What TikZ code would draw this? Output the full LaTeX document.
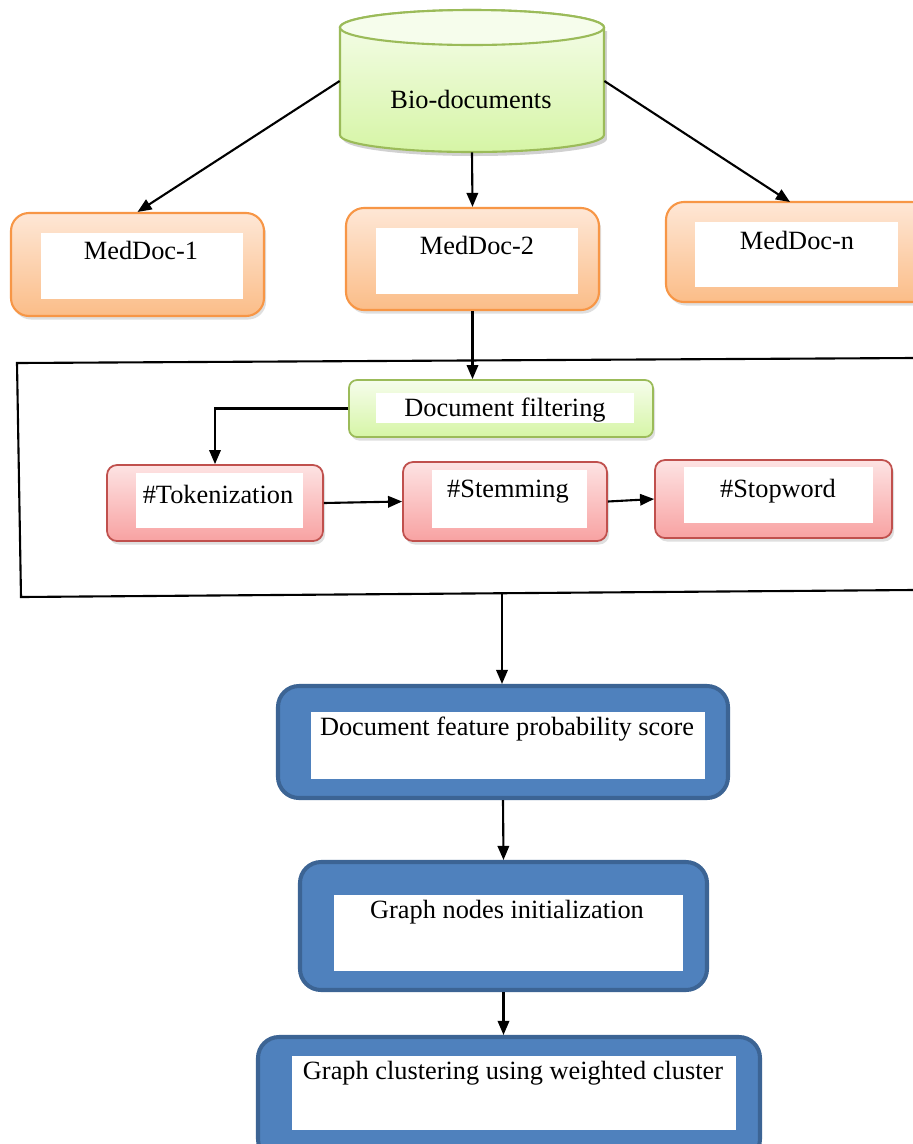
\documentclass[tikz,border=0pt]{standalone}
\usepackage{fontspec}
\setmainfont{Liberation Serif}
\newfontfamily\labelface{Liberation Serif}
\usetikzlibrary{arrows.meta,fit,shadows}

\definecolor{greenline}{HTML}{9BBB59}
\definecolor{greentop}{HTML}{F6FDEC}
\definecolor{greenbot}{HTML}{D6F5A6}
\definecolor{orangeline}{HTML}{F79646}
\definecolor{orangetop}{HTML}{FEE7D6}
\definecolor{orangebot}{HTML}{FBBD88}
\definecolor{redline}{HTML}{C0504D}
\definecolor{redtop}{HTML}{FDE3E3}
\definecolor{redbot}{HTML}{F8A2A2}
\definecolor{bluefill}{HTML}{4F81BD}
\definecolor{blueline}{HTML}{3C6494}

\tikzset{
  softshadow/.style={drop shadow={opacity=0.25,shadow xshift=1.2pt,shadow yshift=-2pt}},
  docbox/.style={inner sep=0pt,rounded corners=0.36cm,draw=orangeline,line width=1.2pt,
    top color=orangetop,bottom color=orangebot,softshadow},
  filterbox/.style={inner sep=0pt,rounded corners=0.16cm,draw=greenline,line width=1pt,
    top color=greentop,bottom color=greenbot,softshadow},
  prepbox/.style={inner sep=0pt,rounded corners=0.2cm,draw=redline,line width=1pt,
    top color=redtop,bottom color=redbot,softshadow},
  stagebox/.style={inner sep=0pt,rounded corners=0.42cm,draw=blueline,line width=2.3pt,
    fill=bluefill},
  panel/.style={inner sep=0pt,fill=white,draw=none},
  lbl/.style={font=\labelface\fontsize{15}{18}\selectfont,text=black,inner sep=0pt},
  conn/.style={line width=1.2pt,-{Triangle[length=8pt,width=6.5pt]}},
  frame/.style={line width=1.2pt}
}

\begin{document}
\begin{tikzpicture}[x=0.02cm,y=-0.02cm]
\clip (0,0) rectangle (913,1144);
\fill[white] (0,0) rectangle (913,1144);

% ---- source database (cylinder) ----
\fill[black,opacity=0.18] (343,31) -- (343,139)
   arc[start angle=180,end angle=360,x radius=2.64cm,y radius=0.34cm] -- (607,31) -- cycle;
\shade[top color=greentop,bottom color=greenbot,draw=greenline,line width=1.2pt]
  (340,27.5) -- (340,135)
  arc[start angle=180,end angle=360,x radius=2.64cm,y radius=0.34cm]
  -- (604,27.5)
  arc[start angle=0,end angle=180,x radius=2.64cm,y radius=0.35cm] -- cycle;
\fill[greentop] (472,27.5) ellipse[x radius=2.64cm,y radius=0.35cm];
\draw[greenline,line width=1.2pt] (472,27.5) ellipse[x radius=2.64cm,y radius=0.35cm];
\node[fit={(340,10) (604,152)},inner sep=0pt] (bio) {};
\node[lbl] at (471,99) {Bio-documents};

% ---- medical documents ----
\node[docbox,fit={(11,213) (264,316)}] (m1) {};
\node[panel,fit={(41,233) (243,299)}] {};
\node[lbl] at (141,250) {MedDoc-1};

\node[docbox,fit={(346,208) (599,310)}] (m2) {};
\node[panel,fit={(376,228) (578,294)}] {};
\node[lbl] at (477,245) {MedDoc-2};

\node[docbox,fit={(666,202) (930,302)}] (mn) {};
\node[panel,fit={(695,222) (898,287)}] {};
\node[lbl] at (797,240) {MedDoc-n};
\coordinate (mntop) at (790,202);

\draw[conn] (bio.west) -- (m1.north);
\draw[conn] (bio.south) -- (m2.north);
\draw[conn] (bio.east) -- (mntop);

% ---- preprocessing frame ----
\coordinate (fr1) at (913,358);
\coordinate (fr2) at (17,363);
\coordinate (fr3) at (21,597);
\coordinate (fr4) at (913,590);
\coordinate (frout) at (502,594);
\draw[frame] (fr1) -- (fr2) -- (fr3) -- (fr4);

\node[filterbox,fit={(349,380) (653,437)}] (filt) {};
\node[panel,fit={(376,393) (634,423)}] {};
\node[lbl] at (505,410) {Document filtering};

\node[prepbox,fit={(107,465) (323,541)}] (tok) {};
\node[panel,fit={(136,473) (303,528)}] {};
\node[lbl] at (218,494) {\#Tokenization};

\node[prepbox,fit={(403,462) (607,541)}] (stem) {};
\node[panel,fit={(432,470) (587,528)}] {};
\node[lbl] at (508,492) {\#Stemming};

\node[prepbox,fit={(655,460) (892,538)}] (stop) {};
\node[panel,fit={(684,467) (873,523)}] {};
\node[lbl] at (778,491) {\#Stopword};

\draw[conn] (m2.south) -- (m2.south |- filt.north);
\draw[conn] (filt.west) -| (tok.north);
\draw[conn] (tok.east) -- (stem.west);
\draw[conn] (stem.east) -- (stop.west);

% ---- scoring and clustering stages ----
\node[stagebox,fit={(278,686) (728,798)}] (score) {};
\node[panel,fit={(311,712) (705,779)}] {};
\node[lbl] at (507,729) {Document feature probability score};

\node[stagebox,fit={(300,862) (707,990)}] (init) {};
\node[panel,fit={(334,895) (683,971)}] {};
\node[lbl] at (507,912) {Graph nodes initialization};

\node[stagebox,fit={(258,1037) (760,1160)}] (clus) {};
\node[panel,fit={(292,1056) (736,1130)}] {};
\node[lbl] at (513,1073) {Graph clustering using weighted cluster};

\draw[conn] (frout) -- (frout |- score.north);
\draw[conn] (score.south) -- (init.north);
\draw[conn] (init.south) -- (init.south |- clus.north);
\end{tikzpicture}
\end{document}
